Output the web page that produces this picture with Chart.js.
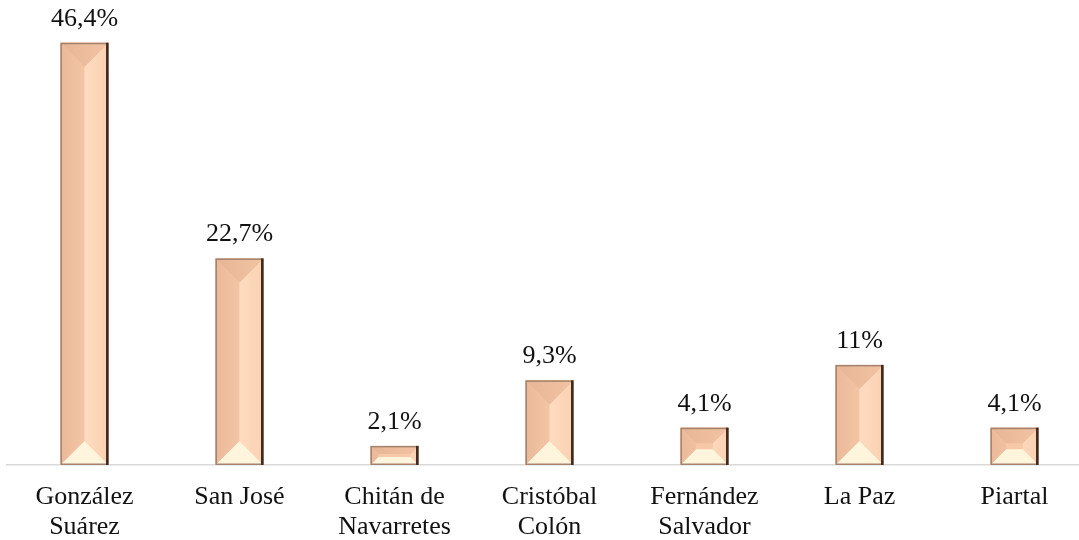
<!DOCTYPE html>
<html>
<head>
<meta charset="utf-8">
<script src="https://cdn.jsdelivr.net/npm/chart.js@4"></script>
<style>
  html, body { margin: 0; padding: 0; background: #fff; overflow: hidden; }
  #wrap { position: relative; width: 1093px; height: 540px; }
</style>
</head>
<body>
<div id="wrap"><canvas id="barChart"></canvas></div>
<script>
// data
const categories = [
  ['González', 'Suárez'],
  'San José',
  ['Chitán de', 'Navarretes'],
  ['Cristóbal', 'Colón'],
  ['Fernández', 'Salvador'],
  'La Paz',
  'Piartal'
];
const shares = [46.4, 22.7, 2.1, 9.3, 4.1, 11, 4.1];
const shareLabels = ['46,4%', '22,7%', '2,1%', '9,3%', '4,1%', '11%', '4,1%'];

const serif = '"Liberation Serif", "DejaVu Serif", serif';

// draws the bevelled look over each bar + the value above it
const bevelBars = {
  id: 'bevelBars',
  afterDatasetsDraw(chart) {
    const ctx = chart.ctx;
    const meta = chart.getDatasetMeta(0);
    meta.data.forEach((bar, i) => {
      const w = bar.width;
      const x0 = bar.x - w / 2, x1 = bar.x + w / 2;
      const y0 = bar.y, y1 = bar.base;
      const h = y1 - y0;
      const b = Math.min(w / 2, h * 0.42);
      const ix0 = x0 + b, ix1 = x1 - b, iy0 = y0 + b, iy1 = y1 - b;

      ctx.save();
      // inner face
      ctx.fillStyle = '#F7C9A9';
      ctx.fillRect(x0, y0, w, h);

      // left side
      let g = ctx.createLinearGradient(x0, 0, bar.x, 0);
      g.addColorStop(0, '#E9B999');
      g.addColorStop(1, '#F4C5A5');
      ctx.fillStyle = g;
      ctx.beginPath();
      ctx.moveTo(x0, y0); ctx.lineTo(ix0, iy0); ctx.lineTo(ix0, iy1); ctx.lineTo(x0, y1);
      ctx.closePath(); ctx.fill();

      // right side
      g = ctx.createLinearGradient(bar.x, 0, x1, 0);
      g.addColorStop(0, '#FFDCC0');
      g.addColorStop(1, '#FAD0B1');
      ctx.fillStyle = g;
      ctx.beginPath();
      ctx.moveTo(x1, y0); ctx.lineTo(ix1, iy0); ctx.lineTo(ix1, iy1); ctx.lineTo(x1, y1);
      ctx.closePath(); ctx.fill();

      // top
      g = ctx.createLinearGradient(x0, 0, x1, 0);
      g.addColorStop(0, '#E6B595');
      g.addColorStop(1, '#F2C3A3');
      ctx.fillStyle = g;
      ctx.beginPath();
      ctx.moveTo(x0, y0); ctx.lineTo(x1, y0); ctx.lineTo(ix1, iy0); ctx.lineTo(ix0, iy0);
      ctx.closePath(); ctx.fill();

      // bottom
      ctx.fillStyle = '#FFF5DC';
      ctx.beginPath();
      ctx.moveTo(x0, y1); ctx.lineTo(x1, y1); ctx.lineTo(ix1, iy1); ctx.lineTo(ix0, iy1);
      ctx.closePath(); ctx.fill();

      // outline
      ctx.strokeStyle = '#A4836E';
      ctx.lineWidth = 1.5;
      ctx.strokeRect(x0 + 0.75, y0 + 0.75, w - 1.5, h - 1.5);
      ctx.strokeStyle = '#3E2B21';
      ctx.lineWidth = 2.5;
      ctx.beginPath();
      ctx.moveTo(x1 - 1.25, y0); ctx.lineTo(x1 - 1.25, y1);
      ctx.stroke();

      // value label
      ctx.fillStyle = '#111';
      ctx.font = '26px ' + serif;
      ctx.textAlign = 'center';
      ctx.textBaseline = 'alphabetic';
      ctx.fillText(shareLabels[i], bar.x, y0 - 17);
      ctx.restore();
    });
  }
};

function drawChart() {
  new Chart(document.getElementById('barChart'), {
    type: 'bar',
    data: {
      labels: categories,
      datasets: [{
        data: shares,
        backgroundColor: '#F7C9A9',
        borderWidth: 0,
        barPercentage: 1,
        categoryPercentage: 0.31
      }]
    },
    options: {
      responsive: true,
      maintainAspectRatio: false,
      animation: false,
      layout: { padding: { left: 7, right: 1, top: 10, bottom: 2 } },
      plugins: {
        legend: { display: false },
        tooltip: { enabled: false }
      },
      scales: {
        x: {
          grid: { display: false, drawTicks: false },
          border: { display: true, color: '#D9D9D9', width: 1.5 },
          ticks: {
            color: '#111',
            padding: 17,
            maxRotation: 0,
            autoSkip: false,
            font: { family: serif, size: 26, lineHeight: 1.17 }
          },
          afterFit(scale) { scale.height = 73; }
        },
        y: {
          display: false,
          min: 0,
          max: 50
        }
      }
    },
    plugins: [bevelBars]
  });
}

document.fonts.load('26px "Liberation Serif"').then(drawChart, drawChart);
</script>
</body>
</html>
